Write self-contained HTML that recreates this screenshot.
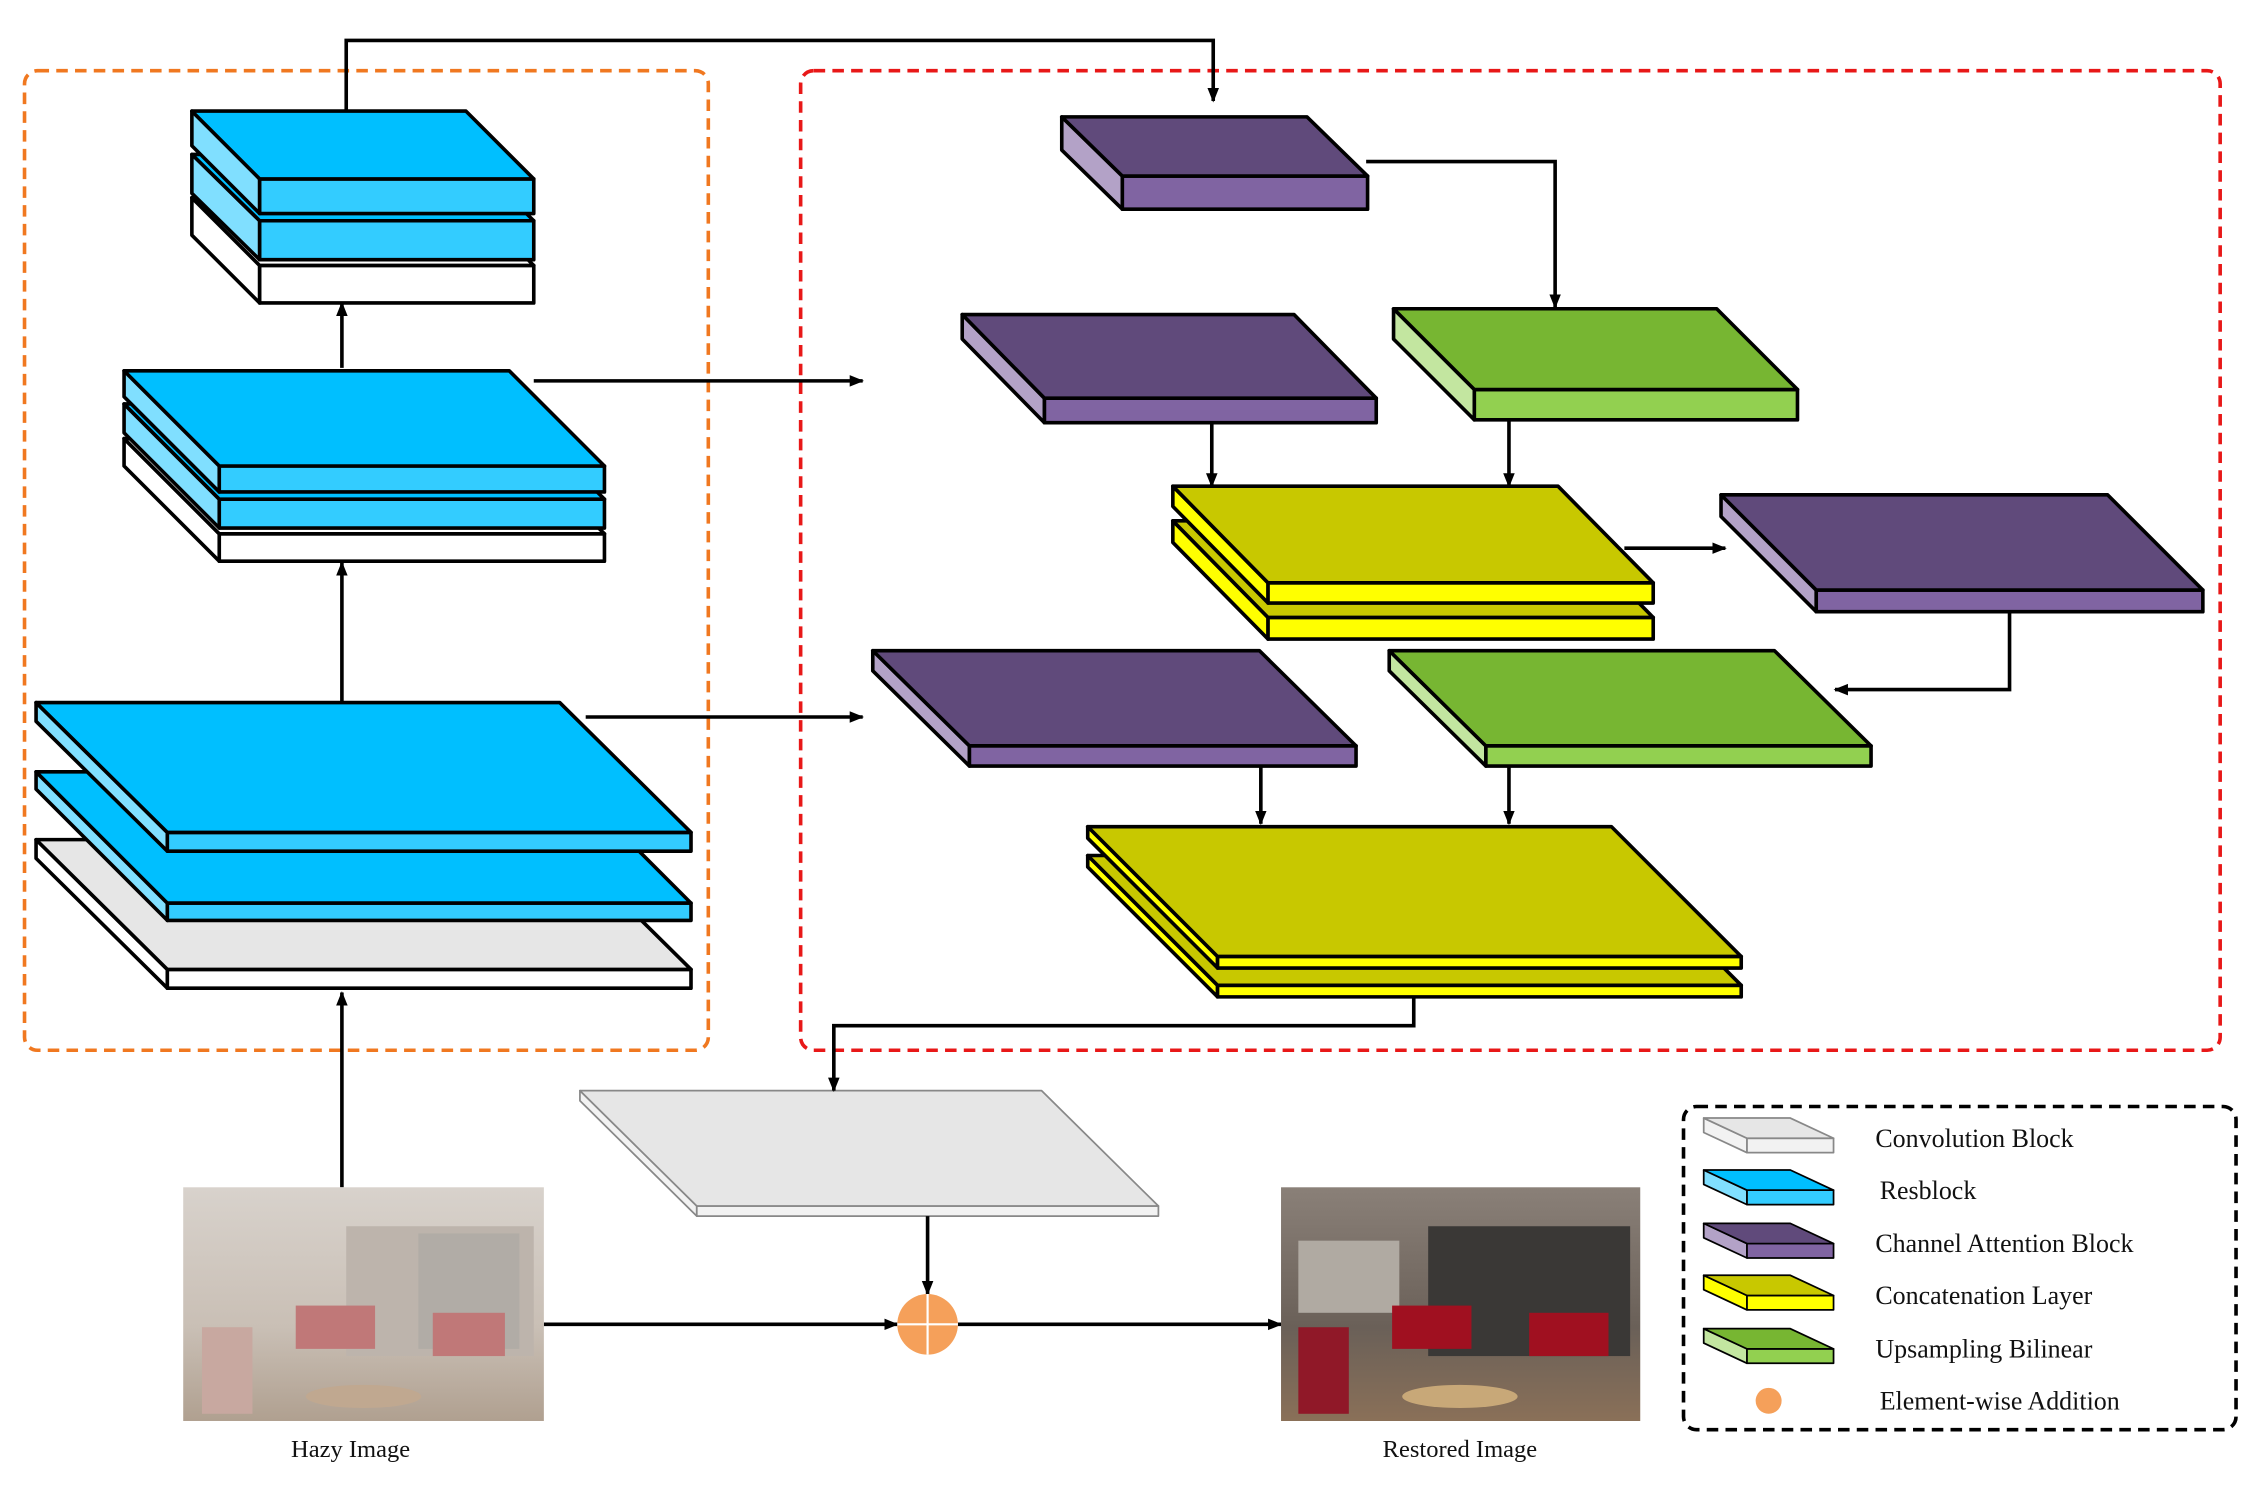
<!DOCTYPE html>
<html><head><meta charset="utf-8"><style>
html,body{margin:0;padding:0;background:#fff}
svg{display:block}
text{font-family:"Liberation Serif",serif;font-size:17px;fill:#111}
#legend text{font-size:18px}
</style></head><body>
<svg id="s" width="2262" height="1492" viewBox="0 0 1568 1034.2" xmlns="http://www.w3.org/2000/svg">
<defs>
<marker id="ah" markerWidth="10" markerHeight="10" refX="9" refY="5" orient="auto" markerUnits="userSpaceOnUse"><path d="M0,1 L10,5 L0,9 z" fill="#000"/></marker>
<linearGradient id="hz" x1="0" y1="0" x2="0" y2="1"><stop offset="0" stop-color="#d8d2cc"/><stop offset="0.6" stop-color="#c9bfb5"/><stop offset="1" stop-color="#b0a090"/></linearGradient>
<linearGradient id="rs" x1="0" y1="0" x2="0" y2="1"><stop offset="0" stop-color="#8a8078"/><stop offset="0.6" stop-color="#6a6058"/><stop offset="1" stop-color="#8a7058"/></linearGradient>
</defs>
<rect x="17" y="49" width="474" height="679" rx="9" fill="none" stroke="#f07820" stroke-width="2.5" stroke-dasharray="8,5"/>
<rect x="555" y="49" width="984" height="679" rx="9" fill="none" stroke="#e81818" stroke-width="2.5" stroke-dasharray="8,5"/>
<rect x="1167" y="767" width="383" height="224" rx="9" fill="none" stroke="#000" stroke-width="2.5" stroke-dasharray="8,5"/>
<g id="slabs"></g>
<g id="arrows" stroke="#000" stroke-width="2.5" fill="none"></g>
<g>
<rect x="127" y="823" width="250" height="162" fill="url(#hz)"/>
<rect x="240" y="850" width="130" height="90" fill="#bdb4ac"/>
<rect x="290" y="855" width="70" height="80" fill="#a8a6a2" opacity="0.6"/>
<rect x="205" y="905" width="55" height="30" fill="#c07878"/><rect x="300" y="910" width="50" height="30" fill="#c07878"/>
<ellipse cx="252" cy="968" rx="40" ry="8" fill="#c0a890"/><rect x="140" y="920" width="35" height="60" fill="#c8a8a0"/>
</g>
<g>
<rect x="888" y="823" width="249" height="162" fill="url(#rs)"/>
<rect x="990" y="850" width="140" height="90" fill="#3a3836"/>
<rect x="900" y="860" width="70" height="50" fill="#b0aaa2"/>
<rect x="965" y="905" width="55" height="30" fill="#a01020"/><rect x="1060" y="910" width="55" height="30" fill="#a01020"/>
<ellipse cx="1012" cy="968" rx="40" ry="8" fill="#c8a878"/><rect x="900" y="920" width="35" height="60" fill="#901828"/>
</g>
<g>
<circle cx="643" cy="918" r="21" fill="#f5a05a"/>
<path d="M622,918 H664 M643,897 V939" stroke="#fff" stroke-width="1.5"/>
</g>
<text x="243" y="1010" text-anchor="middle">Hazy Image</text>
<text x="1012" y="1010" text-anchor="middle">Restored Image</text>
<g id="legend"></g>
</svg>
<script>
const NS="http://www.w3.org/2000/svg";
const C={
 blue:["#00bfff","#33ccff","#80dfff","#000"],
 white:["#fff","#fff","#fff","#000"],
 gray:["#e6e6e6","#fff","#fff","#000"],
 gray2:["#e6e6e6","#f2f2f2","#f2f2f2","#888"],
 purple:["#604a7b","#8064a2","#b3a2c7","#000"],
 green:["#77b632","#92d050","#c3e6a0","#000"],
 yellow:["#c8c800","#ffff00","#ffff00","#000"]
};
function slab(parent,name,bx,by,w,dx,dy,t,col,sw){
 const c=C[col];const g=document.createElementNS(NS,"g");
 
 
 const p=(pts,f)=>{const e=document.createElementNS(NS,"polygon");e.setAttribute("points",pts);e.setAttribute("fill",f);e.setAttribute("stroke",c[3]);e.setAttribute("stroke-width",sw||2.5);e.setAttribute("stroke-linejoin","round");g.appendChild(e);};
 p(`${bx},${by} ${bx+dx},${by+dy} ${bx+dx},${by+dy+t} ${bx},${by+t}`,c[2]);
 p(`${bx+dx},${by+dy} ${bx+dx+w},${by+dy} ${bx+dx+w},${by+dy+t} ${bx+dx},${by+dy+t}`,c[1]);
 p(`${bx},${by} ${bx+w},${by} ${bx+w+dx},${by+dy} ${bx+dx},${by+dy}`,c[0]);
 parent.appendChild(g);
}
const S=document.getElementById("slabs");
slab(S,"conv-block-1",133,137,190,47,47,26,"white");
slab(S,"resblock-1b",133,107,190,47,46,27,"blue");
slab(S,"resblock-1a",133,77,190,47,47,24,"blue");
slab(S,"conv-block-2",86,304,267,66,66,19,"white");
slab(S,"resblock-2b",86,280,267,66,66,20,"blue");
slab(S,"resblock-2a",86,257,267,66,66,18,"blue");
slab(S,"conv-block-3",25,582,363,91,90,13,"gray");
slab(S,"resblock-3b",25,535,363,91,91,12,"blue");
slab(S,"resblock-3a",25,487,363,91,90,13,"blue");
slab(S,"channel-attention-1",736,81,170,42,41,23,"purple");
slab(S,"channel-attention-2",667,218,230,57,58,17,"purple");
slab(S,"upsampling-1",966,214,224,56,56,21,"green");
slab(S,"concat-1b",813,361,267,66,67,15,"yellow");
slab(S,"concat-1a",813,337,267,66,67,14,"yellow");
slab(S,"channel-attention-3",1193,343,268,66,66,15,"purple");
slab(S,"channel-attention-4",605,451,268,67,66,14,"purple");
slab(S,"upsampling-2",963,451,267,67,66,14,"green");
slab(S,"concat-2b",754,593,363,90,90,8,"yellow");
slab(S,"concat-2a",754,573,363,90,90,8,"yellow");
slab(S,"output-conv-block",402,756,320,81,80,7,"gray2",1.2);
const A=document.getElementById("arrows");
const arrows=[
 [[240,77],[240,28],[841,28],[841,70]],
 [[237,255],[237,210]],[[237,487],[237,390]],[[237,823],[237,688]],
 [[370,264],[598,264]],[[406,497],[598,497]],
 [[947,112],[1078,112],[1078,213]],
 [[840,293],[840,337]],[[1046,291],[1046,337]],
 [[1126,380],[1196,380]],
 [[1393,424],[1393,478],[1272,478]],
 [[874,531],[874,571]],[[1046,531],[1046,571]],
 [[980,691],[980,711],[578,711],[578,756]],
 [[643,843],[643,897]],[[377,918],[622,918]],[[664,918],[888,918]]
];
arrows.forEach((a,i)=>{const e=document.createElementNS(NS,"polyline");
 e.setAttribute("points",a.map(p=>p.join(",")).join(" "));
 e.setAttribute("marker-end","url(#ah)");
 
 
 A.appendChild(e);});
const L=document.getElementById("legend");
const items=[["white","Convolution Block",789],["blue","Resblock",825],["purple","Channel Attention Block",862],["yellow","Concatenation Layer",898],["green","Upsampling Bilinear",935]];
items.forEach(it=>{slab(L,"legend-icon-"+it[0],1181,it[2]-14,60,30,14,10,it[0]==="white"?"gray2":it[0],1.2);
 const t=document.createElementNS(NS,"text");t.setAttribute("x",it[1]==="Resblock"?1303:1300);t.setAttribute("y",it[2]+6);t.textContent=it[1];
 
 
 L.appendChild(t);});
const c=document.createElementNS(NS,"circle");c.setAttribute("cx",1226);c.setAttribute("cy",971);c.setAttribute("r",9);c.setAttribute("fill","#f5a05a");


L.appendChild(c);
const t=document.createElementNS(NS,"text");t.setAttribute("x",1303);t.setAttribute("y",977);t.textContent="Element-wise Addition";


L.appendChild(t);
</script>
</body></html>
